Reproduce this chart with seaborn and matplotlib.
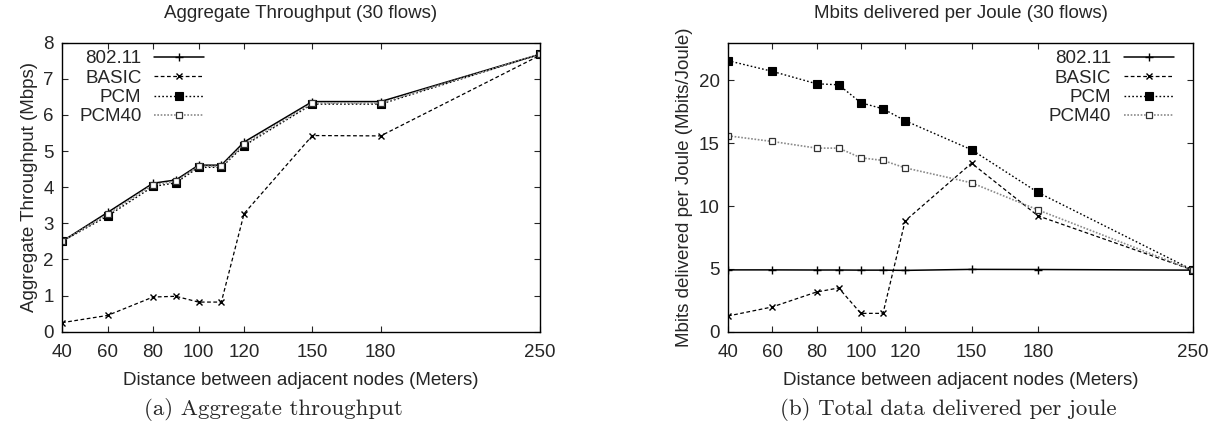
import numpy as np
import pandas as pd
import matplotlib
matplotlib.use("Agg")
import matplotlib.pyplot as plt
import seaborn as sns

# distances (meters)
distance = [40, 60, 80, 90, 100, 110, 120, 150, 180, 250]
x_ticks = [40, 60, 80, 100, 120, 150, 180, 250]

# aggregate throughput (Mbps)
thr_80211 = [2.50, 3.30, 4.11, 4.20, 4.61, 4.61, 5.25, 6.37, 6.37, 7.68]
thr_basic = [0.25, 0.45, 0.96, 0.98, 0.82, 0.82, 3.27, 5.43, 5.42, 7.65]
thr_pcm = [2.50, 3.20, 4.02, 4.12, 4.55, 4.55, 5.15, 6.30, 6.30, 7.68]
thr_pcm40 = [2.50, 3.25, 4.07, 4.16, 4.58, 4.58, 5.19, 6.33, 6.33, 7.68]

# Mbits delivered per joule
mpj_80211 = [4.92, 4.92, 4.91, 4.91, 4.90, 4.90, 4.88, 4.96, 4.95, 4.90]
mpj_basic = [1.25, 1.97, 3.16, 3.48, 1.46, 1.46, 8.82, 13.41, 9.22, 4.90]
mpj_pcm = [21.57, 20.72, 19.73, 19.65, 18.22, 17.74, 16.79, 14.48, 11.08, 4.90]
mpj_pcm40 = [15.59, 15.14, 14.61, 14.61, 13.84, 13.63, 13.04, 11.85, 9.69, 4.90]

protocols = ["802.11", "BASIC", "PCM", "PCM40"]

sns.set_style("ticks")
plt.rcParams["font.family"] = ["Liberation Sans", "DejaVu Sans"]
FS = 13.5

styles = {
    "802.11": dict(color="black", linestyle="-", marker="+", markersize=5.5,
                   markeredgecolor="black", markeredgewidth=1.0, linewidth=1.1),
    "BASIC": dict(color="black", linestyle=(0, (3, 2)), marker="x", markersize=4.5,
                  markeredgecolor="black", markeredgewidth=1.0, linewidth=0.9),
    "PCM": dict(color="black", linestyle=(0, (1.2, 1.6)), marker="s", markersize=5.5,
                markerfacecolor="black", markeredgecolor="black",
                markeredgewidth=0.8, linewidth=1.0),
    "PCM40": dict(color="#8a8a8a", linestyle=(0, (1, 1)), marker="s", markersize=4.8,
                  markerfacecolor="white", markeredgecolor="#333333",
                  markeredgewidth=0.9, linewidth=1.2),
}


def make_frame(values):
    rows = []
    for name, vals in zip(protocols, values):
        for d, v in zip(distance, vals):
            rows.append({"distance": d, "value": v, "protocol": name})
    return pd.DataFrame(rows)


def draw_panel(ax, df, ylim, yticks, title, ylabel, caption, cap_x, legend_anchor):
    for name in protocols:
        sub = df[df["protocol"] == name]
        sns.lineplot(data=sub, x="distance", y="value", ax=ax, label=name,
                     errorbar=None, **styles[name])
    ax.set_xlim(40, 250)
    ax.set_ylim(*ylim)
    ax.set_xticks(x_ticks)
    ax.set_yticks(yticks)
    ax.tick_params(direction="in", length=4, width=0.8, top=True, right=True,
                   labelsize=FS)
    ax.tick_params(axis="x", pad=9)
    ax.tick_params(axis="y", pad=6)
    for s in ax.spines.values():
        s.set_visible(True)
        s.set_linewidth(1.0)
        s.set_color("black")
    ax.set_title(title, fontsize=FS, pad=18)
    ax.set_xlabel("Distance between adjacent nodes (Meters)", fontsize=FS, labelpad=8)
    ax.set_ylabel(ylabel, fontsize=FS, labelpad=4)
    ax.legend(loc="upper right", bbox_to_anchor=legend_anchor, frameon=False,
              markerfirst=False, numpoints=1, handlelength=2.67,
              handletextpad=0.67, labelspacing=0.12, borderaxespad=0,
              fontsize=FS)
    fig.text(cap_x, 1 - 398 / 423, caption, ha="center", va="top",
             fontsize=16.5, family=["cmr10", "DejaVu Serif"])


fig = plt.figure(figsize=(12.28, 4.23), dpi=100)
ax1 = fig.add_axes([62 / 1228, 1 - 331.7 / 423, 478 / 1228, 289 / 423])
ax2 = fig.add_axes([728 / 1228, 1 - 331.7 / 423, 465 / 1228, 289 / 423])

df_thr = make_frame([thr_80211, thr_basic, thr_pcm, thr_pcm40])
df_mpj = make_frame([mpj_80211, mpj_basic, mpj_pcm, mpj_pcm40])

draw_panel(ax1, df_thr, (0, 8), range(0, 9),
           "Aggregate Throughput (30 flows)", "Aggregate Throughput (Mbps)",
           "(a) Aggregate throughput", 273 / 1228, (0.313, 1.0))
draw_panel(ax2, df_mpj, (0, 23), [0, 5, 10, 15, 20],
           "Mbits delivered per Joule (30 flows)",
           "Mbits delivered per Joule (Mbits/Joule)",
           "(b) Total data delivered per joule", 948 / 1228, (0.975, 1.0))

fig.savefig("out.png", dpi=100)
